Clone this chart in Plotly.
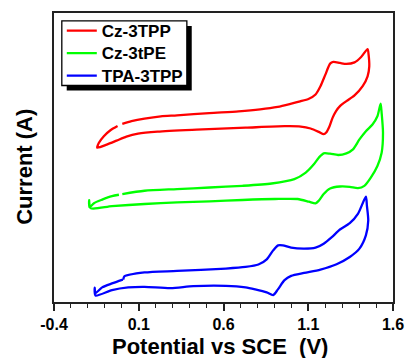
import plotly.graph_objects as go

# ---- data (potential in V, current in arbitrary units, curves offset) ----
series_names = ["Cz-3TPP", "Cz-3tPE", "TPA-3TPP"]
series_colors = ["#FF0000", "#00FF00", "#0000FF"]

cz3tpp_v = [0.003, 0.057, 0.134, 0.230, 0.326, 0.516, 0.689, 0.816, 0.920, 0.995,
            1.052, 1.104, 1.143, 1.172, 1.201, 1.229, 1.248, 1.287, 1.325, 1.373,
            1.412, 1.450, 1.456, 1.460, 1.450, 1.421, 1.373, 1.325, 1.287, 1.264,
            1.244, 1.225, 1.206, 1.191, 1.162, 1.114, 1.056, 0.960, 0.730, 0.441,
            0.211, 0.096, 0.027, -0.031, -0.089, -0.145, -0.135, -0.106, -0.067, -0.025]
cz3tpp_i = [2.915, 2.967, 3.018, 3.062, 3.081, 3.125, 3.158, 3.196, 3.244, 3.301,
            3.349, 3.401, 3.483, 3.642, 3.866, 4.077, 4.109, 4.090, 4.071, 4.101,
            4.205, 4.358, 4.249, 4.025, 3.833, 3.642, 3.464, 3.355, 3.259, 3.164,
            3.037, 2.865, 2.750, 2.718, 2.762, 2.827, 2.865, 2.871, 2.842, 2.804,
            2.766, 2.727, 2.670, 2.593, 2.517, 2.459, 2.551, 2.679, 2.794, 2.875]

cz3tpe_v = [0.003, 0.134, 0.326, 0.518, 0.711, 0.884, 1.018, 1.085, 1.133, 1.162,
            1.191, 1.229, 1.277, 1.325, 1.364, 1.402, 1.440, 1.479, 1.508, 1.527,
            1.533, 1.541, 1.533, 1.508, 1.469, 1.431, 1.393, 1.345, 1.287, 1.229,
            1.191, 1.162, 1.143, 1.104, 1.037, 0.903, 0.711, 0.518, 0.326, 0.134,
            -0.058, -0.184, -0.193, -0.190, -0.164, -0.116, -0.058, -0.017]
cz3tpe_i = [1.564, 1.627, 1.659, 1.690, 1.722, 1.767, 1.851, 1.977, 2.138, 2.264,
            2.348, 2.341, 2.316, 2.348, 2.425, 2.616, 2.775, 2.903, 3.062, 3.305,
            3.125, 2.743, 2.360, 2.105, 1.881, 1.722, 1.678, 1.703, 1.709, 1.671,
            1.564, 1.435, 1.384, 1.416, 1.468, 1.468, 1.449, 1.422, 1.403, 1.372,
            1.330, 1.292, 1.445, 1.311, 1.388, 1.455, 1.522, 1.550]

tpa3tpp_v = [0.009, 0.015, 0.134, 0.326, 0.614, 0.730, 0.806, 0.855, 0.893, 0.922,
             0.950, 0.999, 1.076, 1.143, 1.191, 1.239, 1.287, 1.345, 1.393, 1.440,
             1.446, 1.454, 1.440, 1.402, 1.345, 1.267, 1.172, 1.076, 0.999, 0.960,
             0.922, 0.893, 0.855, 0.787, 0.730, 0.614, 0.422, 0.288, 0.134, 0.038,
             -0.058, -0.155, -0.160, -0.155, -0.116, -0.058, 0.006]
tpa3tpp_i = [-0.086, -0.025, 0.052, 0.082, 0.128, 0.159, 0.205, 0.306, 0.478, 0.574,
             0.574, 0.530, 0.511, 0.530, 0.607, 0.733, 0.880, 1.001, 1.181, 1.512,
             1.340, 1.053, 0.766, 0.511, 0.350, 0.211, 0.109, 0.044, -0.013, -0.096,
             -0.268, -0.383, -0.331, -0.274, -0.235, -0.205, -0.211, -0.249, -0.224, -0.235,
             -0.287, -0.392, -0.239, -0.344, -0.235, -0.159, -0.086]

x_ticks = [-0.4, 0.1, 0.6, 1.1, 1.6]
x_tick_labels = ["-0.4", "0.1", "0.6", "1.1", "1.6"]
y_ticks = [0, 1, 2, 3, 4]

FONT = "Arial, Liberation Sans, sans-serif"

fig = go.Figure()
for name, color, xv, yv in zip(series_names, series_colors,
                               [cz3tpp_v, cz3tpe_v, tpa3tpp_v],
                               [cz3tpp_i, cz3tpe_i, tpa3tpp_i]):
    fig.add_trace(go.Scatter(x=xv, y=yv, mode="lines",
                             name='<span style="font-size:17px">%s</span>' % name,
                             line=dict(color=color, width=2.3, shape="spline", smoothing=0.7)))

fig.update_layout(
    width=415, height=358,
    margin=dict(l=54, r=14, t=11, b=56),
    paper_bgcolor="white", plot_bgcolor="white",
    font=dict(family=FONT, color="black"),
    showlegend=True,
    legend=dict(x=0.023, y=0.995, xanchor="left", yanchor="top",
                bgcolor="rgba(0,0,0,0)", borderwidth=0,
                font=dict(family=FONT, size=15, color="black", weight="bold"),
                itemwidth=30, tracegroupgap=0),
    xaxis=dict(range=[-0.4, 1.6], tickvals=x_ticks, ticktext=x_tick_labels,
               ticks="outside", ticklen=7, tickwidth=1.5, tickcolor="#222",
               minor=dict(dtick=0.1, tick0=-0.4, ticks="outside", ticklen=4,
                          tickwidth=1.2, tickcolor="#222"),
               showline=True, linewidth=2, linecolor="#222", mirror=True,
               showgrid=False, zeroline=False,
               tickfont=dict(family=FONT, size=16, color="black", weight="bold")),
    xaxis2=dict(range=[-0.4, 1.6], overlaying="x", side="top", dtick=0.1, tick0=-0.4,
                ticks="outside", ticklen=2, tickwidth=1, tickcolor="#444",
                showticklabels=False, showline=False, showgrid=False, zeroline=False),
    yaxis=dict(range=[-0.517, 5.053], showticklabels=False, ticks="",
               showline=True, linewidth=2, linecolor="#222", mirror=True,
               showgrid=False, zeroline=False),
    yaxis2=dict(range=[-0.517, 5.053], overlaying="y", side="right", tickvals=y_ticks,
                ticks="outside", ticklen=3, tickwidth=1, tickcolor="#444",
                showticklabels=False, showline=False, showgrid=False, zeroline=False),
    annotations=[
        dict(text="Potential vs SCE\u00a0 (V)", xref="paper", yref="paper",
             x=0.49, y=-0.155, xanchor="center", yanchor="middle", showarrow=False,
             font=dict(family=FONT, size=22, color="black", weight="bold")),
        dict(text="Current (A)", xref="paper", yref="paper", textangle=-90,
             x=-0.0893, y=0.467, xanchor="center", yanchor="middle", showarrow=False,
             font=dict(family=FONT, size=22, color="black", weight="bold")),
    ],
    shapes=[
        # legend drop shadow and frame
        dict(type="rect", xref="paper", yref="paper", x0=0.0375, x1=0.4063,
             y0=0.7320, y1=0.9553, fillcolor="black", line=dict(width=0), layer="above"),
        dict(type="rect", xref="paper", yref="paper", x0=0.02305, x1=0.3919,
             y0=0.7491, y1=0.9725, fillcolor="white",
             line=dict(color="black", width=1.3), layer="above"),
    ],
)

fig.write_html("out.html", config={"displayModeBar": False},
               post_script="document.body.style.margin='0';document.body.style.overflow='hidden';")
